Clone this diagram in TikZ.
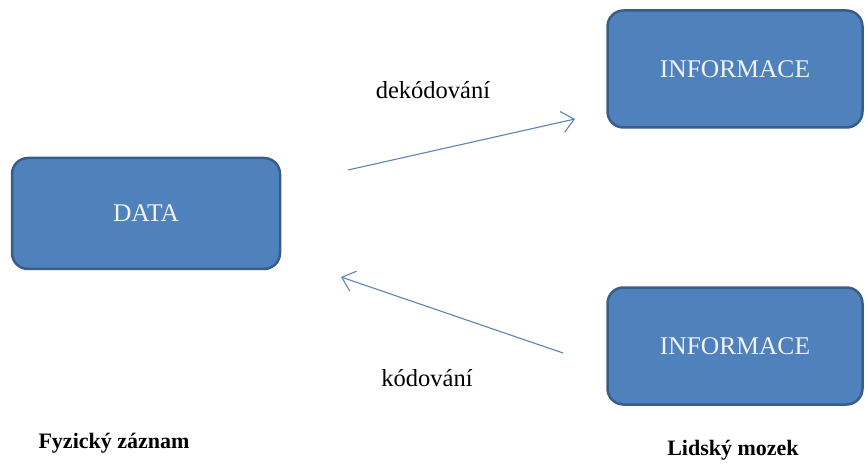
\documentclass[tikz,border=0pt]{standalone}
\usepackage{fontspec}
\setmainfont{Liberation Serif}
\usetikzlibrary{arrows.meta}
\definecolor{boxfill}{HTML}{4F81BD}
\definecolor{boxline}{HTML}{385D8A}
\definecolor{arrowc}{HTML}{5C83B8}
\definecolor{boxtext}{HTML}{F2F2F2}
\tikzset{
  bluebox/.style={draw=boxline, fill=boxfill, line width=2.5pt, rounded corners=16pt,
    text=boxtext, font=\fontsize{25.5}{29}\selectfont, inner sep=0pt},
  flowarrow/.style={draw=arrowc, line width=1.1pt, -{Straight Barb[length=12pt,width=21pt]}},
  lbl/.style={font=\fontsize{24.5}{28}\selectfont, text=black},
  bold/.style={font=\bfseries\fontsize{22}{26}\selectfont, text=black}
}
\begin{document}
\begin{tikzpicture}[x=1pt,y=-1pt]
\useasboundingbox (0,0) rectangle (865,465);
\node[bluebox, minimum width=268pt, minimum height=111pt] (data) at (146,213.5) {DATA};
\node[bluebox, minimum width=255pt, minimum height=117pt] (info1) at (735,69) {INFORMACE};
\node[bluebox, minimum width=255pt, minimum height=117pt] (info2) at (735,346) {INFORMACE};
\coordinate (d1s) at (348,170);
\coordinate (d1e) at (575,119);
\coordinate (k1s) at (563,353);
\coordinate (k1e) at (341,277);
\draw[flowarrow] (d1s) -- (d1e);
\draw[flowarrow] (k1s) -- (k1e);
\node[lbl] (dek) at (433,90) {dekódování};
\node[lbl] (kod) at (427,378) {kódování};
\node[bold] (fyz) at (114,443) {Fyzický záznam};
\node[bold] (lid) at (733,450) {Lidský mozek};
\end{tikzpicture}
\end{document}
